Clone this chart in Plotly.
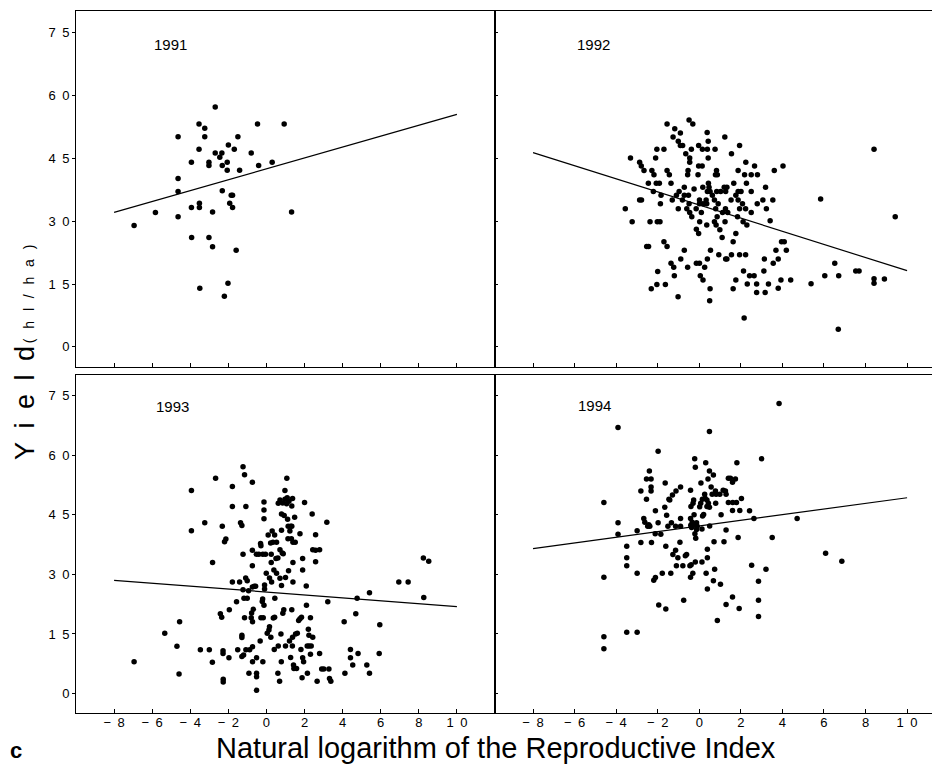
import plotly.graph_objects as go

# ---------------- data ----------------
x_1991 = [-6.95, -5.83, -4.64, -4.64, -4.64, -4.64, -3.94, -3.94, -3.93, -3.54, -3.54, -3.52, -3.52, -3.5,
          -3.24, -3.24, -3.02, -3.02, -3.02, -2.83, -2.83, -2.69, -2.69, -2.45, -2.34, -2.32, -2.32, -2.21,
          -2.06, -2.06, -2.02, -2.0, -1.93, -1.85, -1.78, -1.78, -1.69, -1.59, -1.5, -1.41, -0.8, -0.47,
          -0.41, 0.3, 0.93, 1.32]
y_1991 = [29.0, 32.1, 50.2, 40.2, 37.1, 31.1, 44.1, 33.3, 26.1, 53.2, 47.2, 34.3, 33.3, 14.0,
          52.2, 50.2, 44.1, 43.3, 26.1, 32.2, 23.9, 57.3, 46.3, 45.3, 46.3, 43.3, 37.3, 12.1,
          44.1, 42.2, 15.2, 48.2, 34.3, 36.2, 36.2, 33.3, 47.2, 23.1, 50.2, 42.2, 46.3, 53.2,
          43.3, 44.1, 53.2, 32.2]

x_1992 = [-0.49, -0.31, -1.55, -1.18, -0.91, -1.26, 0.38, 1.23, -1.01, 0.43, -0.91, -0.8, -0.03, 1.94,
          -2.04, -1.7, -0.38, 0.15, 0.39, 0.76, 8.41, -0.65, 1.55, -3.31, -2.1, -0.46, 0.43, -0.46,
          -2.87, -2.79, -0.03, 0.14, 2.24, 2.66, 4.03, -2.66, -2.28, -1.55, -0.54, 0.83, 1.87, 3.61,
          -2.18, -1.44, -0.56, -0.06, 0.78, 0.87, 2.18, 2.5, 2.8, -2.45, -2.07, -1.92, -1.36, 0.44,
          1.66, 2.27, -0.72, 0.17, 0.47, 1.2, 1.33, 3.19, -0.25, -2.21, -0.97, 0.39, 0.52, 0.84,
          1.03, 1.27, 1.87, 2.01, 2.5, -1.84, -1.1, -0.72, -0.52, 0.63, 1.76, -2.87, -2.78, -1.3,
          -0.81, 0.01, 0.33, 0.73, 1.53, 1.87, 3.06, 3.54, 5.84, -1.87, -0.49, 0.01, 0.18, 0.36,
          0.91, 2.08, 2.79, -3.56, -1.01, -0.6, -0.15, 0.79, 1.26, 1.94, 2.23, 3.23, -0.46, 0.1,
          1.12, 1.37, 2.5, -0.36, 0.86, 1.84, 9.43, -3.23, -2.37, -2.02, -1.89, 0.02, 0.73, 1.24,
          2.11, 3.41, 0.36, 0.81, 2.29, -0.14, 0.99, -0.03, 1.76, 1.1, -1.7, 1.63, 3.96, 4.09,
          -1.55, -2.53, -2.44, -0.72, 0.54, 3.69, 4.19, 0.94, 1.55, 1.94, 2.23, -0.89, 0.39, 1.27,
          1.33, 3.13, 3.8, -1.36, -0.14, 0.01, 3.56, 6.52, -1.23, -0.56, 0.26, -2.0, 2.13, 3.11,
          7.53, 7.69, -1.2, 0.05, 2.42, 2.64, 6.04, 6.71, 0.18, 1.76, 3.93, 4.4, 8.41, 8.91,
          8.41, -2.04, -1.63, 2.31, 2.76, 3.33, 5.38, -2.31, 0.52, 1.63, 3.8, 2.76, 3.17, -1.02,
          0.5, 2.16, 6.69]
y_1992 = [54.2, 53.2, 53.2, 52.1, 51.1, 50.1, 51.2, 50.1, 49.1, 49.1, 48.1, 48.1, 48.1, 48.1,
          47.2, 47.2, 47.2, 47.2, 47.2, 47.2, 47.2, 46.1, 46.1, 45.1, 45.1, 45.1, 45.1, 44.1,
          44.1, 43.2, 43.2, 43.2, 44.1, 43.2, 43.2, 42.1, 42.1, 42.1, 42.1, 42.1, 42.1, 42.1,
          41.1, 41.1, 41.1, 41.1, 41.1, 41.1, 41.1, 41.1, 41.1, 39.1, 39.1, 39.1, 39.1, 39.1,
          39.1, 39.1, 38.1, 38.1, 38.1, 38.1, 38.1, 38.1, 37.7, 37.1, 37.1, 37.1, 37.1, 37.1,
          37.1, 37.1, 37.1, 37.1, 37.1, 36.2, 36.2, 36.2, 36.2, 36.2, 36.2, 35.1, 35.1, 35.1,
          35.1, 35.1, 35.1, 35.1, 35.1, 35.1, 35.1, 35.1, 35.3, 34.2, 34.2, 34.2, 34.2, 34.2,
          34.2, 34.2, 34.2, 33.0, 33.0, 33.0, 33.0, 33.0, 33.0, 33.0, 33.0, 33.0, 32.1, 32.1,
          32.1, 32.1, 32.1, 31.1, 31.1, 31.1, 31.1, 29.9, 29.9, 29.9, 29.9, 29.9, 29.9, 29.9,
          29.9, 30.1, 29.1, 29.1, 29.1, 28.1, 28.0, 27.1, 27.1, 26.1, 25.1, 25.1, 25.1, 25.1,
          24.0, 24.0, 24.0, 23.1, 23.1, 23.1, 23.1, 22.0, 22.0, 22.0, 22.0, 21.0, 21.0, 21.0,
          21.0, 21.0, 21.0, 20.0, 20.0, 20.0, 20.0, 20.0, 19.0, 19.0, 19.0, 18.0, 18.1, 18.1,
          18.1, 18.1, 17.0, 17.0, 17.0, 17.0, 17.0, 17.0, 16.0, 16.0, 16.0, 16.0, 16.3, 16.2,
          15.2, 14.9, 14.9, 15.0, 15.0, 15.0, 15.1, 13.9, 13.9, 13.9, 14.0, 13.0, 13.0, 12.0,
          11.0, 6.9, 4.2]

x_1993 = [-6.95, -5.34, -4.7, -4.59, -4.56, -3.94, -3.94, -3.47, -3.24, -3.0, -2.84, -2.83, -2.67,
          -2.42, -2.35, -2.32, -2.27, -2.27, -2.28, -2.28, -2.2, -2.13, -1.97, -1.95, -1.79, -1.79,
          -1.79, -1.57, -1.51, -1.41, -1.36, -1.29, -1.29, -1.29, -1.29, -1.23, -1.23, -1.23, -1.2,
          -1.18, -1.15, -1.15, -1.09, -1.08, -1.08, -1.01, -1.01, -0.94, -0.92, -0.88, -0.8, -0.78,
          -0.74, -0.74, -0.74, -0.74, -0.73, -0.73, -0.73, -0.69, -0.64, -0.57, -0.53, -0.52, -0.52,
          -0.52, -0.52, -0.4, -0.33, -0.31, -0.29, -0.29, -0.22, -0.2, -0.19, -0.19, -0.17, -0.13,
          -0.13, -0.13, -0.13, -0.1, -0.1, -0.05, -0.01, 0.04, 0.09, 0.13, 0.16, 0.16, 0.22, 0.23,
          0.25, 0.25, 0.27, 0.3, 0.34, 0.36, 0.39, 0.41, 0.43, 0.43, 0.44, 0.5, 0.53, 0.53, 0.6,
          0.6, 0.62, 0.62, 0.69, 0.71, 0.71, 0.71, 0.76, 0.78, 0.79, 0.79, 0.79, 0.83, 0.85, 0.86,
          0.88, 0.91, 0.93, 0.97, 0.97, 1.0, 1.0, 1.06, 1.07, 1.09, 1.11, 1.13, 1.14, 1.16, 1.18,
          1.21, 1.23, 1.27, 1.27, 1.31, 1.33, 1.33, 1.33, 1.36, 1.37, 1.37, 1.39, 1.39, 1.39, 1.42,
          1.44, 1.48, 1.51, 1.53, 1.58, 1.62, 1.69, 1.76, 1.76, 1.81, 1.84, 1.87, 1.9, 1.9, 1.9,
          1.95, 2.0, 2.09, 2.1, 2.14, 2.15, 2.2, 2.23, 2.24, 2.31, 2.31, 2.35, 2.4, 2.43, 2.43,
          2.58, 2.58, 2.58, 2.66, 2.79, 2.79, 2.9, 3.01, 3.17, 3.22, 3.28, 3.31, 3.38, 4.08, 4.12,
          4.41, 4.41, 4.53, 4.69, 4.76, 4.81, 5.27, 5.41, 5.41, 5.92, 5.95, 6.95, 7.44, 8.24, 8.52,
          8.26]
y_1993 = [8.0, 15.2, 11.9, 4.9, 18.1, 51.1, 41.0, 11.0, 43.0, 11.0, 7.9, 33.0, 54.2,
          20.1, 19.2, 42.1, 3.6, 2.9, 10.8, 10.1, 38.2, 38.9, 9.0, 21.1, 52.1, 47.1,
          28.1, 23.1, 11.0, 28.1, 43.0, 42.3, 14.7, 14.1, 9.3, 57.1, 35.1, 26.1, 9.7,
          24.0, 55.1, 19.1, 29.1, 47.1, 11.0, 28.4, 24.0, 25.9, 5.1, 11.0, 19.1, 20.3,
          53.2, 36.1, 32.2, 26.8, 18.1, 11.8, 8.0, 21.2, 27.0, 27.0, 35.1, 9.0, 5.1,
          4.2, 0.8, 35.1, 13.2, 37.8, 37.2, 19.1, 23.2, 23.8, 35.1, 8.0, 19.1, 48.2,
          46.2, 44.0, 22.2, 27.3, 26.3, 35.1, 30.3, 15.2, 39.9, 16.0, 16.8, 29.1, 37.9, 14.2,
          35.1, 33.0, 28.1, 40.9, 38.1, 19.0, 31.1, 11.1, 39.9, 19.2, 24.0, 34.0, 38.1, 30.3, 34.1,
          5.1, 47.9, 12.0, 3.1, 36.2, 48.7, 29.0, 15.0, 8.0, 45.2, 41.1, 27.2, 35.4, 48.0, 20.2,
          35.2, 21.1, 44.8, 51.1, 48.9, 29.2, 12.0, 47.8, 54.2, 49.3, 43.9, 39.0, 42.1, 30.9, 48.4,
          13.2, 40.9, 42.1, 9.1, 39.0, 47.2, 21.1, 42.1, 12.0, 49.1, 14.2, 38.1, 33.0, 28.1, 7.2,
          6.3, 44.4, 38.1, 15.0, 6.3, 15.2, 18.4, 40.2, 18.8, 11.1, 19.2, 4.0, 9.0, 34.0, 31.1,
          8.0, 48.1, 27.1, 22.2, 12.0, 5.1, 16.2, 14.7, 12.0, 19.1, 9.9, 12.0, 45.2, 14.2, 36.2,
          33.2, 40.0, 36.1, 3.1, 36.2, 10.1, 6.2, 6.2, 43.1, 23.1, 6.2, 3.8, 3.1, 18.1, 5.1,
          9.0, 11.1, 7.2, 20.1, 24.0, 10.1, 7.2, 25.4, 5.1, 10.1, 17.3, 28.1, 28.1, 34.1, 33.3,
          24.2]

x_1994 = [3.84, -3.91, 0.49, -1.98, -0.22, 3.0, 0.31, 1.81, -0.19, -2.4, 0.49, 0.68, -2.54, -2.32,
          0.42, 1.4, 1.5, 1.74, -1.64, 0.08, 1.6, 0.57, -2.32, -0.9, -2.81, -2.32, -0.42, 0.78,
          1.15, 1.26, -1.12, 0.26, 0.62, 0.81, 0.99, 1.29, -1.29, -1.46, -2.54, 0.15, 0.28, 0.37,
          -1.42, -0.27, 2.03, -4.59, -0.3, 0.07, 0.44, 0.79, 1.4, 1.61, 1.79, -0.4, 0.02, 0.37,
          -1.66, 0.49, -2.11, 1.6, 1.95, 2.42, -1.57, 0.21, 1.05, -0.25, 0.16, 2.63, 4.71, -2.67,
          -0.9, -0.42, -2.62, -3.91, -1.98, -1.34, -0.34, -0.13, -2.43, -2.48, -2.38, -1.51, -1.14,
          -0.9, -0.41, -0.26, -0.1, 0.5, -0.37, 0.13, -0.13, -2.99, 1.29, -2.12, -3.91, -0.21,
          -1.85, 1.87, 3.51, -0.17, -2.81, -2.3, -0.93, 0.71, 1.19, -3.49, -1.61, 0.39, -1.14,
          -0.61, -0.67, -1.27, -1.03, -3.49, 0.39, 6.08, 6.86, -0.19, 0.13, -3.49, -1.1, -0.79,
          -0.45, -0.39, 2.52, 3.21, 0.74, -2.99, -1.78, -1.37, -0.31, 0.33, -0.42, -4.59, -2.11,
          -2.19, 0.68, 2.85, 1.02, 0.39, -0.75, 2.85, 1.6, -1.95, 1.29, -1.61, 1.92, 2.85, 0.87,
          -4.59, -3.49, -2.99, -4.59]
y_1994 = [73.0, 67.0, 66.0, 61.0, 59.1, 59.1, 58.1, 58.1, 57.0, 56.0, 56.0, 55.0, 54.0, 54.0,
          54.0, 54.2, 54.2, 54.0, 53.0, 53.0, 53.2, 52.0, 52.0, 52.0, 51.0, 51.0, 51.2, 51.0,
          51.2, 51.0, 51.0, 50.2, 50.2, 50.2, 50.2, 50.2, 50.0, 48.9, 48.9, 48.9, 49.2, 48.7,
          48.7, 48.7, 49.1, 48.1, 47.9, 47.9, 47.9, 47.9, 48.1, 48.1, 48.1, 47.1, 47.0, 47.1,
          46.9, 46.9, 46.0, 46.1, 46.1, 46.0, 44.9, 45.1, 45.0, 45.0, 44.7, 44.1, 44.1, 44.1,
          44.1, 44.1, 43.1, 43.0, 43.0, 43.0, 43.1, 43.0, 42.5, 42.1, 42.1, 42.1, 42.1,
          42.1, 42.4, 42.4, 42.1, 42.2, 41.8, 41.4, 41.3, 41.0, 41.2, 40.2, 40.1, 40.2,
          40.1, 39.3, 39.3, 39.1, 38.0, 38.0, 38.1, 38.2, 38.2, 37.1, 37.1, 36.3, 36.1,
          35.0, 34.7, 35.0, 34.2, 34.2, 34.2, 35.3, 33.3, 33.1, 33.1, 32.2, 32.2, 32.2,
          32.2, 32.4, 32.3, 31.3, 31.3, 30.3, 30.3, 30.3, 30.3, 30.3, 29.3, 29.3, 29.2,
          28.5, 28.4, 28.3, 27.5, 26.3, 23.5, 23.5, 24.3, 22.3, 22.4, 21.3, 21.4, 19.4, 18.4,
          14.3, 15.4, 15.4, 11.3]

# regression lines (end points read at x = -8 and x = 10)
fit_x = [-8, 10]
fit_1991 = [32.1, 55.5]
fit_1992 = [46.4, 18.2]
fit_1993 = [28.5, 21.9]
fit_1994 = [36.5, 49.3]

years = ["1991", "1992", "1993", "1994"]
y_ticks = [0, 15, 30, 45, 60, 75]
y_ticktext = ["0", "1\u20025", "3\u20020", "4\u20025", "6\u20020", "7\u20025"]
x_ticks = [-8, -6, -4, -2, 0, 2, 4, 6, 8, 10]
x_ticktext = ["\u2212\u20028", "\u2212\u20026", "\u2212\u20024", "\u2212\u20022", "0", "2", "4", "6", "8",
              "1\u20020"]

# ---------------- figure ----------------
FONT = "Liberation Sans, Arial, Helvetica, sans-serif"
W, H = 932, 769

fig = go.Figure()

panels = [
    (x_1991, y_1991, fit_1991, "x", "y"),
    (x_1992, y_1992, fit_1992, "x2", "y2"),
    (x_1993, y_1993, fit_1993, "x3", "y3"),
    (x_1994, y_1994, fit_1994, "x4", "y4"),
]
for xs, ys, fit, xa, ya in panels:
    fig.add_trace(go.Scatter(x=xs, y=ys, mode="markers", xaxis=xa, yaxis=ya,
                             marker=dict(color="black", size=5.5, line=dict(width=0)),
                             showlegend=False, hoverinfo="x+y"))
    fig.add_trace(go.Scatter(x=fit_x, y=fit, mode="lines", xaxis=xa, yaxis=ya,
                             line=dict(color="black", width=1.2),
                             showlegend=False, hoverinfo="skip"))

left_dom = [76 / W, 495 / W]
right_dom = [495 / W, 1.0]
top_dom = [1 - 367 / H, 1 - 11 / H]
bot_dom = [1 - 713 / H, 1 - 375 / H]

def xaxis(dom, rng, labels, anchor):
    return dict(domain=dom, range=rng, anchor=anchor, showgrid=False, zeroline=False,
                showline=True, linecolor="black", linewidth=1, mirror=True,
                tickmode="array", tickvals=x_ticks, ticktext=x_ticktext,
                showticklabels=labels, ticks="inside", ticklen=4, tickcolor="black",
                ticklabelstandoff=-3,
                tickfont=dict(family=FONT, size=13, color="black"))

def yaxis(dom, rng, labels, anchor, mirror):
    return dict(domain=dom, range=rng, anchor=anchor, showgrid=False, zeroline=False,
                showline=True, linecolor="black", linewidth=1, mirror=mirror,
                tickmode="array", tickvals=y_ticks, ticktext=y_ticktext,
                showticklabels=labels, ticks="outside" if labels else "inside",
                ticklen=3, tickcolor="black",
                tickfont=dict(family=FONT, size=13, color="black"))

top_rng = [-4.8, 80.2]
bot_rng = [-4.9, 80.2]
left_rng = [-10, 12]
right_rng = [-9.83, 11.2]

fig.update_layout(
    width=W, height=H,
    margin=dict(l=0, r=0, t=0, b=0),
    paper_bgcolor="white", plot_bgcolor="white",
    font=dict(family=FONT, color="black"),
    xaxis=xaxis(left_dom, left_rng, False, "y"),
    yaxis=yaxis(top_dom, top_rng, True, "x", True),
    xaxis2=xaxis(right_dom, right_rng, False, "y2"),
    yaxis2=yaxis(top_dom, top_rng, False, "x2", False),
    xaxis3=xaxis(left_dom, left_rng, True, "y3"),
    yaxis3=yaxis(bot_dom, bot_rng, True, "x3", True),
    xaxis4=xaxis(right_dom, right_rng, True, "y4"),
    yaxis4=yaxis(bot_dom, bot_rng, False, "x4", False),
)

year_pos = [(170, 44), (593, 44), (172, 406), (594, 405)]
for yr, (px, py) in zip(years, year_pos):
    fig.add_annotation(text=yr, x=px / W, y=1 - py / H, xref="paper", yref="paper",
                       xanchor="center", yanchor="middle", showarrow=False,
                       font=dict(family=FONT, size=15, color="black"))

# Y axis title (letter-spaced, as in the original)
g = "\u2002\u2009"
y_title = ("Y\u2002i\u2002e\u2002l\u2002d"
           "<span style='font-size:14px'>\u2009(" + g + "h" + g + "l" + g + "/" + g + "h" + g + "a" + g + ")</span>")
fig.add_annotation(
    text=y_title,
    x=25 / W, y=1 - 353 / H, xref="paper", yref="paper", textangle=-90,
    xanchor="center", yanchor="middle", showarrow=False,
    font=dict(family=FONT, size=27, color="black"))

# X axis title
fig.add_annotation(text="Natural logarithm of the Reproductive Index",
                   x=496 / W, y=1 - 748 / H, xref="paper", yref="paper",
                   xanchor="center", yanchor="middle", showarrow=False,
                   font=dict(family=FONT, size=29, color="black"))

# panel letter
fig.add_annotation(text="<b>c</b>", x=16 / W, y=1 - 750 / H, xref="paper", yref="paper",
                   xanchor="center", yanchor="middle", showarrow=False,
                   font=dict(family=FONT, size=22, color="black"))

fig.write_html("out.html", config={"displayModeBar": False},
               post_script="document.body.style.margin='0';document.body.style.padding='0';")
